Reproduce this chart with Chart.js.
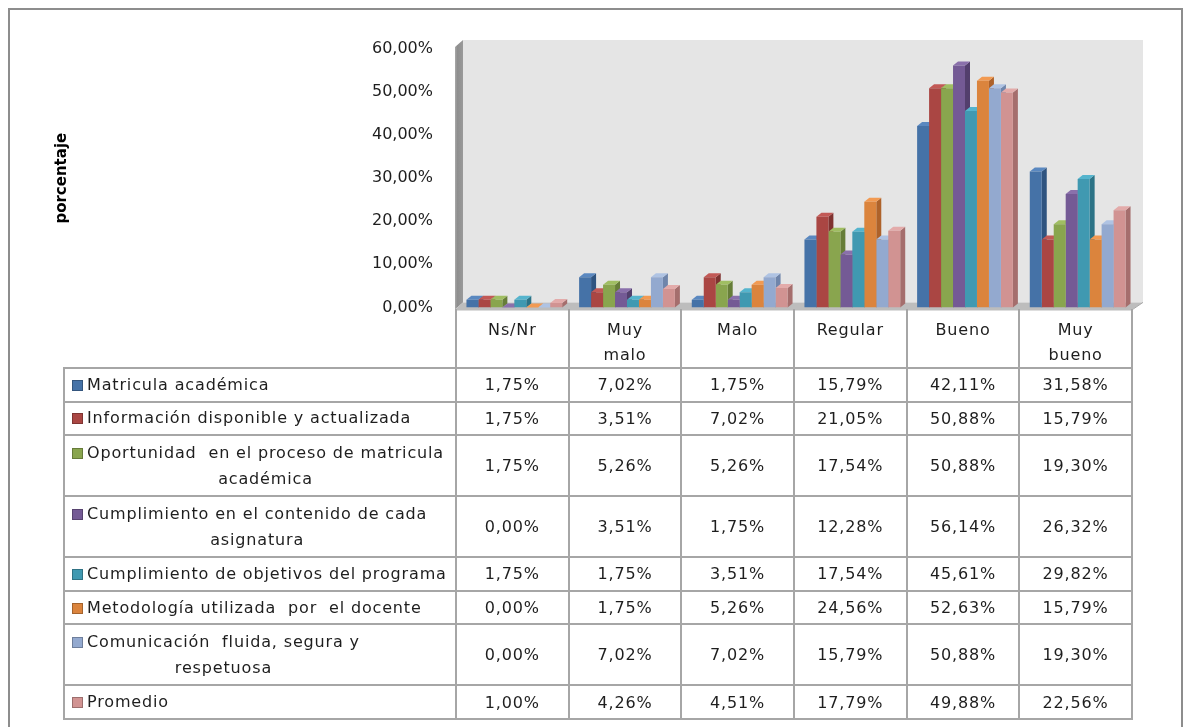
<!DOCTYPE html>
<html>
<head>
<meta charset="utf-8">
<script src="https://cdn.jsdelivr.net/npm/chart.js@4.4.1/dist/chart.umd.min.js"></script>
<style>
  html, body { margin: 0; padding: 0; background: #fff; width: 1186px; height: 727px; overflow: hidden; }
  body { font-family: "DejaVu Sans", sans-serif; color: #1e1e1e; }
  #frame { position: absolute; left: 8px; top: 8px; width: 1175px; height: 760px;
           border: 2px solid #8d8d8d; border-bottom: none; box-sizing: border-box; }
  #plot { position: absolute; left: 0; top: 0; }
  #grid { position: absolute; left: 63px; top: 309px; border-collapse: collapse; table-layout: fixed;
          width: 1068px; font-size: 16px; letter-spacing: 0.85px; }
  #grid td { border: 2px solid #a6a6a6; padding: 0; overflow: visible; }
  #grid tr.head td { border-top: none; vertical-align: top; text-align: center; line-height: 25px;
                     padding-top: 8px; height: 50px; }
  #grid tr.head td.blank { border: none; }
  #grid td.val { text-align: center; vertical-align: middle; }
  #grid td.name { padding-left: 7px; vertical-align: middle; line-height: 26px; white-space: pre; }
  .lab { display: flex; align-items: flex-start; }
  .lab .txt { display: inline-block; text-align: center; }
  .key { flex: none; width: 11px; height: 11px; margin: 8px 4px 0 0;
         box-shadow: inset 0 0 0 1px rgba(0,0,0,0.25); }
</style>
</head>
<body>
<div id="frame"></div>
<canvas id="plot" width="1186" height="334"></canvas>
<table id="grid"></table>
<script>
// Rating categories (x axis) and y-axis ticks, in percent
const categories = ["Ns/Nr", "Muy malo", "Malo", "Regular", "Bueno", "Muy bueno"];
const yTicks = [0, 10, 20, 30, 40, 50, 60];

// Survey items; "\n" marks where the row label wraps in the table
const seriesNames = [
  "Matricula académica",
  "Información disponible y actualizada",
  "Oportunidad  en el proceso de matricula\nacadémica",
  "Cumplimiento en el contenido de cada\nasignatura",
  "Cumplimiento de objetivos del programa",
  "Metodología utilizada  por  el docente",
  "Comunicación  fluida, segura y\nrespetuosa",
  "Promedio"
];

// Percentage of answers per category for each item
const matricula    = [1.75, 7.02, 1.75, 15.79, 42.11, 31.58];
const informacion  = [1.75, 3.51, 7.02, 21.05, 50.88, 15.79];
const oportunidad  = [1.75, 5.26, 5.26, 17.54, 50.88, 19.30];
const contenido    = [0.00, 3.51, 1.75, 12.28, 56.14, 26.32];
const objetivos    = [1.75, 1.75, 3.51, 17.54, 45.61, 29.82];
const metodologia  = [0.00, 1.75, 5.26, 24.56, 52.63, 15.79];
const comunicacion = [0.00, 7.02, 7.02, 15.79, 50.88, 19.30];
const promedio     = [1.00, 4.26, 4.51, 17.79, 49.88, 22.56];

const seriesValues = [matricula, informacion, oportunidad, contenido,
                      objetivos, metodologia, comunicacion, promedio];

// Front, side and top face colours of the 3D columns
const frontColors = ["#4572A7", "#AA4643", "#89A54E", "#745A95", "#4099B1", "#DB843D", "#93A9CF", "#D19392"];
const sideColors  = ["#2F5480", "#7F3230", "#667D38", "#533F6D", "#2C7386", "#AE622A", "#6F85AB", "#A56E6D"];
const topColors   = ["#5A88C0", "#C25956", "#A0BE62", "#8A70AB", "#55B4CD", "#F29A52", "#AFC3E3", "#E3ABAA"];

const pct = v => v.toFixed(2).replace(".", ",") + "%";

// The columns sit a little right of the box's front edge
const SHIFT = 3;
// Depth offsets of the 3D box (walls/floor) and of each column
const WALL_DX = 8, WALL_TOP_DY = 9, WALL_BOTTOM_DY = 5;
const BAR_DX = 5, BAR_DY = 4;

function poly(ctx, pts, fill) {
  ctx.beginPath();
  ctx.moveTo(pts[0][0], pts[0][1]);
  for (let k = 1; k < pts.length; k++) ctx.lineTo(pts[k][0], pts[k][1]);
  ctx.closePath();
  ctx.fillStyle = fill;
  ctx.fill();
}

// Back wall, side wall, floor, then the side/top faces of every column;
// the library draws the front faces afterwards so neighbours overlap correctly.
const box3d = {
  id: "box3d",
  beforeDatasetsDraw(chart) {
    const ctx = chart.ctx;
    const a = chart.chartArea;
    const L = a.left - SHIFT, R = a.right - SHIFT, T = a.top, B = a.bottom;
    ctx.save();
    // back wall
    poly(ctx, [[L + WALL_DX, T - WALL_TOP_DY], [R + WALL_DX + 4, T - WALL_TOP_DY],
               [R + WALL_DX + 4, B - WALL_BOTTOM_DY], [L + WALL_DX, B - WALL_BOTTOM_DY]], "#e5e5e5");
    // left wall
    const lw = ctx.createLinearGradient(L, 0, L + WALL_DX, 0);
    lw.addColorStop(0, "#a9a9a9");
    lw.addColorStop(0.3, "#8e8e8e");
    lw.addColorStop(1, "#9a9a9a");
    poly(ctx, [[L, T - 2], [L + WALL_DX, T - WALL_TOP_DY], [L + WALL_DX, B - WALL_BOTTOM_DY], [L, B + 2]], lw);
    // floor
    poly(ctx, [[L, B + 2], [L + WALL_DX, B - WALL_BOTTOM_DY], [R + WALL_DX + 4, B - WALL_BOTTOM_DY], [R + 1, B + 2]], "#bdbdbd");
    ctx.strokeStyle = "#a8a8a8";
    ctx.lineWidth = 1;
    ctx.beginPath();
    ctx.moveTo(L, B + 2.5); ctx.lineTo(R + 1, B + 2.5); ctx.lineTo(R + WALL_DX + 4, B - WALL_BOTTOM_DY);
    ctx.stroke();

    // column side and top faces
    const n = chart.data.datasets.length;
    for (let j = 0; j < categories.length; j++) {
      for (let i = 0; i < n; i++) {
        const el = chart.getDatasetMeta(i).data[j];
        const {x, y, base, width} = el.getProps(["x", "y", "base", "width"], true);
        const l = x - width / 2, r = x + width / 2;
        poly(ctx, [[r, y], [r + BAR_DX, y - BAR_DY], [r + BAR_DX, base - BAR_DY], [r, base]], sideColors[i]);
        poly(ctx, [[l, y], [l + BAR_DX, y - BAR_DY], [r + BAR_DX, y - BAR_DY], [r, y]], topColors[i]);
      }
    }
    ctx.restore();
  }
};

new Chart(document.getElementById("plot"), {
  type: "bar",
  data: {
    labels: categories,
    datasets: seriesNames.map((name, i) => ({
      label: name.replace("\n", " "),
      data: seriesValues[i],
      backgroundColor: frontColors[i],
      borderWidth: 0
    }))
  },
  options: {
    responsive: false,
    animation: false,
    events: [],
    layout: { padding: { left: 0, top: 49, right: 55 - SHIFT, bottom: 10 } },
    datasets: { bar: { categoryPercentage: 0.85, barPercentage: 1 } },
    plugins: { legend: { display: false }, tooltip: { enabled: false } },
    scales: {
      x: { display: false },
      y: {
        min: 0, max: 60,
        afterBuildTicks: s => { s.ticks = yTicks.map(v => ({ value: v })); },
        afterFit: s => { s.width = 455 + SHIFT; },
        ticks: {
          callback: v => pct(v),
          color: "#1e1e1e",
          padding: 14 + SHIFT,
          font: { family: "DejaVu Sans", size: 16 }
        },
        grid: { display: false },
        border: { display: false },
        title: {
          display: true,
          text: "porcentaje",
          color: "#000",
          padding: { top: 53, bottom: 0 },
          font: { family: "DejaVu Sans", size: 15, weight: "bold" }
        }
      }
    }
  },
  plugins: [box3d]
});

// Data table under the plot: category header row, then one row per item
const grid = document.getElementById("grid");
let html = '<colgroup><col style="width:392px">' +
           categories.map(() => '<col style="width:112.67px">').join("") + '</colgroup>';
html += '<tr class="head"><td class="blank"></td>' +
        categories.map(c => '<td>' + c.split(" ").join("<br>") + '</td>').join("") + '</tr>';
seriesNames.forEach((name, i) => {
  const lines = name.split("\n");
  const h = lines.length > 1 ? 61 : 33.6;
  const label = '<div class="lab"><span class="key" style="background:' + frontColors[i] + '"></span>' +
                '<div class="txt">' + lines.join("<br>") + '</div></div>';
  html += '<tr style="height:' + h + 'px"><td class="name">' + label + '</td>' +
          seriesValues[i].map(v => '<td class="val">' + pct(v) + '</td>').join("") + '</tr>';
});
grid.innerHTML = html;
</script>
</body>
</html>
